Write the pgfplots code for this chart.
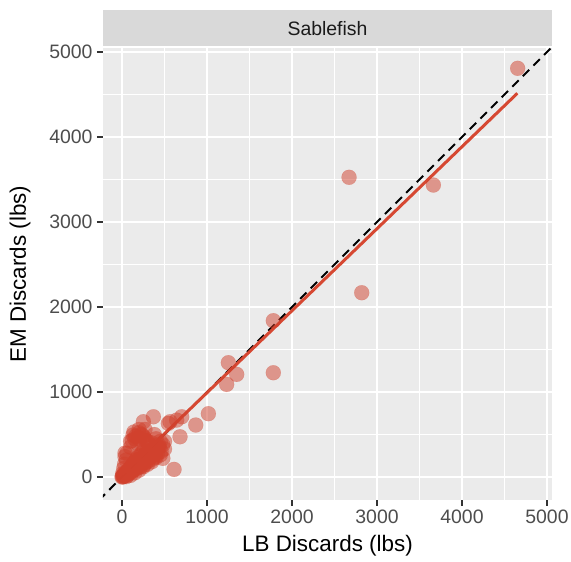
\documentclass[border=0pt]{standalone}
\usepackage{fontspec}
\setmainfont{Liberation Sans}
\usepackage{pgfplots}
\pgfplotsset{compat=1.18}
\definecolor{panel}{RGB}{235,235,235}
\definecolor{stripc}{RGB}{217,217,217}
\definecolor{ptc}{RGB}{209,65,45}
\definecolor{fitc}{RGB}{214,72,50}
\definecolor{tickc}{RGB}{77,77,77}
\definecolor{tickm}{RGB}{51,51,51}

\pgfplotstableread{
x y
0 0
5 10
10 2
15 20
20 8
25 30
30 15
8 40
40 25
45 50
50 35
55 60
60 20
65 70
70 45
75 55
80 90
85 40
90 75
95 100
100 60
105 120
110 85
115 95
120 140
125 70
130 110
135 160
140 100
145 130
150 180
155 90
160 150
165 200
170 120
175 170
180 140
185 230
190 110
195 180
200 210
205 150
210 250
215 170
220 120
225 200
230 280
235 160
240 220
245 300
250 190
255 140
260 240
265 320
270 200
275 260
280 170
285 230
290 300
295 210
300 260
310 190
320 280
330 230
340 300
350 250
360 210
370 330
380 270
390 240
400 320
420 280
440 350
460 300
480 380
500 330
480 220
35 240
35 282
130 494
100 420
150 450
180 400
200 520
250 480
280 430
120 430
140 530
160 480
200 560
230 500
260 460
300 420
320 380
350 400
400 450
430 380
380 500
270 560
200 450
100 350
60 280
50 200
30 150
20 100
300 150
350 180
400 230
450 260
250 120
200 80
150 50
100 20
50 5
350 280
420 350
500 420
450 420
251 651
369 709
545 631
565 651
643 670
702 709
682 474
867 612
1016 745
612 90
1251 1345
1349 1208
1231 1090
1780 1227
1780 1839
2820 2168
2671 3526
3663 3435
4655 4808
}\pts

\begin{document}
\begin{tikzpicture}
\begin{axis}[
  width=449bp, height=452bp, scale only axis,
  xmin=-224, xmax=5059, ymin=-270, ymax=5047,
  axis background/.style={fill=panel},
  axis line style={draw=none},
  xtick={0,1000,...,5000}, ytick={0,1000,...,5000},
  minor xtick={500,1500,...,4500}, minor ytick={500,1500,...,4500},
  grid=both,
  major grid style={white, line width=1.4bp},
  minor grid style={white, line width=0.7bp},
  tick pos=left, tick align=outside,
  major tick length=6bp, minor tick length=0bp,
  major tick style={draw=tickm, line width=1.1bp},
  ticklabel style={font=\fontsize{19.5}{22}\selectfont, text=tickc},
  yticklabel style={xshift=-1bp},
  /pgf/number format/assume math mode=true,
  /pgf/number format/1000 sep={},
  xlabel={LB Discards (lbs)}, ylabel={EM Discards (lbs)},
  label style={font=\fontsize{22.5}{26}\selectfont},
  xlabel style={at={(axis description cs:0.5,-0.1018)}, anchor=center},
  ylabel style={at={(axis description cs:-0.1849,0.5)}, anchor=center},
  clip=true,
]
\addplot[only marks, mark=*, mark size=7.5bp,
  mark options={fill=ptc, draw=ptc, fill opacity=0.5, draw opacity=0.3, line width=0.3bp}]
  table[x=x, y=y] {\pts};
\addplot[black, line width=2bp, dash pattern=on 9bp off 6bp] coordinates {(-400,-400) (5200,5200)};
\addplot[fitc, line width=3bp] coordinates {(0,28) (4651,4514)};
\end{axis}
\fill[stripc] ([yshift=1.5bp]current axis.north west) rectangle ([yshift=38bp]current axis.north east);
\node[font=\fontsize{19.5}{22}\selectfont, text={rgb,255:red,26;green,26;blue,26}] at ([yshift=19.75bp]current axis.north) {Sablefish};
\pgfresetboundingbox
\path ([xshift=-103bp, yshift=48bp]current axis.north west) rectangle ([xshift=19bp, yshift=-62bp]current axis.south east);
\end{tikzpicture}
\end{document}
